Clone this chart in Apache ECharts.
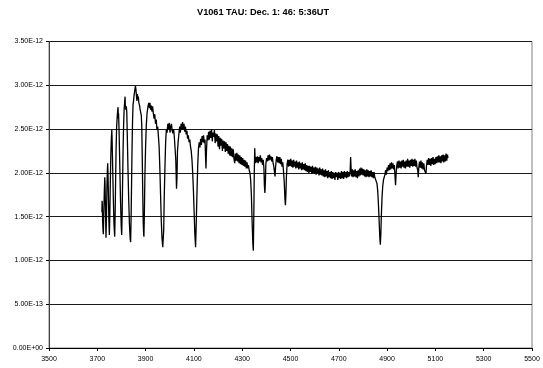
<!DOCTYPE html>
<html>
<head>
<meta charset="utf-8">
<script src="https://cdn.jsdelivr.net/npm/echarts@6/dist/echarts.min.js"></script>
<style>
  html, body { margin: 0; padding: 0; background: #fff; }
  #chart { width: 543px; height: 368px; }
</style>
</head>
<body>
<div id="chart"></div>
<script>
// Chart title
const TITLE = 'V1061 TAU: Dec. 1: 46: 5:36UT';

// Wavelength axis (Angstrom)
const X_MIN = 3500;
const X_MAX = 5500;
const X_STEP = 200;

// Flux axis, values stored in units of 1E-12
const FLUX_UNIT = 1e-12;
const Y_MIN = 0;
const Y_MAX = 3.5;
const Y_STEP = 0.5;

// Spectrum: [wavelength (A), flux (1E-12 units)]
const SPECTRUM_BLUE = [
  [3719,1.55],[3720,1.68],[3721,1.62],[3722,1.45],[3724,1.33],[3725,1.30],[3727,1.55],[3729,1.78],
  [3731,1.95],[3732,1.88],[3734,1.55],[3736,1.26],[3738,1.50],[3740,1.85],[3742,2.05],[3743,2.11],
  [3744,2.02],[3746,1.75],[3748,1.45],[3750,1.29],[3752,1.55],[3754,1.90],[3756,2.20],[3758,2.38],
  [3760,2.49],[3761,2.42],[3763,2.15],[3766,1.75],[3769,1.42],[3772,1.27],[3774,1.55],[3776,1.95],
  [3778,2.30],[3780,2.52],[3782,2.62],[3784,2.70],[3786,2.75],[3787,2.62],[3788,2.68],[3790,2.50],
  [3793,2.10],[3796,1.70],[3799,1.40],[3801,1.29],[3803,1.55],[3805,1.95],[3807,2.30],[3809,2.55],
  [3811,2.72],[3813,2.80],[3815,2.87],[3816,2.78],[3818,2.72],[3820,2.76],[3822,2.70],[3824,2.45],
  [3827,2.05],[3830,1.70],[3833,1.42],[3836,1.25],[3838,1.21],[3840,1.50],[3842,1.90],[3844,2.30],
  [3846,2.60],[3848,2.78],[3850,2.82],[3852,2.88],[3854,2.92],[3856,2.96],[3858,2.99],[3860,2.95],
  [3862,2.88],[3864,2.82],[3866,2.90],[3868,2.84],[3870,2.87],[3872,2.80],[3875,2.77],[3877,2.73],
  [3879,2.70],[3882,2.66],[3884,2.55],[3886,2.20],[3888,1.80],[3890,1.45],[3892,1.30],[3893,1.27],
  [3895,1.55],[3897,1.95],[3900,2.30],[3903,2.55],[3906,2.68],[3908,2.72],[3910,2.76],[3913,2.80],
  [3916,2.74],[3918,2.80],[3921,2.72],[3924,2.77],[3926,2.70],[3929,2.76],[3932,2.68],[3935,2.62],
  [3938,2.67],[3941,2.56],[3944,2.61],[3947,2.49],[3950,2.53],[3953,2.42],[3956,2.30],[3959,2.05],
  [3962,1.75],[3965,1.45],[3968,1.25],[3971,1.15],[3973,1.13],[3975,1.35],[3977,1.70],[3980,2.05],
  [3983,2.35],[3986,2.50],[3989,2.46],[3992,2.56],[3995,2.50],[3998,2.57],[4001,2.46],[4004,2.53],
  [4007,2.56],[4010,2.48],[4013,2.45],[4016,2.50],[4019,2.41],[4022,2.40],[4025,2.15],[4028,1.82],
  [4030,1.95],[4032,2.25],[4035,2.36],[4038,2.45],[4041,2.53],[4044,2.46],[4047,2.56],[4050,2.49],
  [4053,2.58],[4056,2.50],[4059,2.56],[4062,2.47],[4065,2.53],[4068,2.44],[4071,2.48],[4074,2.39],
  [4077,2.43],[4080,2.35],[4083,2.38],[4086,2.30],[4089,2.25],[4092,2.15],[4095,2.00],[4098,1.80],
  [4101,1.55],[4104,1.30],[4107,1.15],[4110,1.45],[4113,1.80],[4116,2.10],[4119,2.28],[4122,2.35],
  [4125,2.29],[4128,2.39],[4131,2.32],[4134,2.42],[4137,2.35],[4140,2.43],[4143,2.34],[4146,2.38],
  [4148,2.20],[4150,2.05],[4152,2.25],[4155,2.43],[4158,2.37],[4161,2.47]
];

const SPECTRUM_MID = [
  [4164,2.38],[4167,2.48],[4170,2.40],[4173,2.50],[4176,2.36],[4179,2.46],[4182,2.41],[4185,2.49],
  [4188,2.34],[4191,2.45],[4194,2.36],[4197,2.44],[4200,2.30],[4203,2.42],[4206,2.27],[4209,2.40],
  [4212,2.31],[4215,2.39],[4218,2.25],[4221,2.37],[4224,2.28],[4227,2.36],[4230,2.24],[4233,2.35],
  [4236,2.25],[4239,2.33],[4242,2.22],[4245,2.31],[4248,2.20],[4251,2.30],[4254,2.19],[4257,2.28],
  [4260,2.18],[4263,2.27],[4266,2.16],[4269,2.11],[4272,2.22],[4275,2.14],[4278,2.23],[4281,2.13],
  [4284,2.21],[4287,2.11],[4290,2.20],[4293,2.10],[4296,2.18],[4299,2.09],[4302,2.17],[4305,2.08],
  [4308,2.15],[4311,2.07],[4314,2.14],[4317,2.05],[4320,2.12],[4323,2.05],[4326,2.09],[4329,2.03],
  [4332,2.00],[4335,1.92],[4338,1.75],[4341,1.45],[4344,1.20],[4346,1.11],[4348,1.50],[4350,2.00],
  [4352,2.28],[4354,2.11],[4357,2.18],[4360,2.12],[4363,2.19],[4366,2.11],[4369,2.18],[4372,2.13],
  [4375,2.20],[4378,2.12],[4381,2.17],[4384,2.09],[4387,2.15],[4390,2.05],[4392,1.85],[4394,1.77],
  [4396,1.90],[4398,2.10],[4401,2.17],[4404,2.13],[4407,2.20],[4410,2.14],[4413,2.21],[4416,2.15],
  [4419,2.19],[4422,2.13],[4425,2.18],[4428,2.11],[4431,2.07],[4434,2.00],[4436,1.96],[4438,2.06],
  [4441,2.15],[4444,2.19],[4447,2.12],[4450,2.18],[4453,2.11],[4456,2.18],[4459,2.10],[4462,2.16],
  [4465,2.07],[4468,2.12],[4471,2.02],[4474,1.90],[4477,1.70],[4479,1.63],[4481,1.75],[4483,1.95],
  [4486,2.10],[4489,2.15],[4492,2.07],[4495,2.15],[4498,2.08],[4501,2.16],[4504,2.07],[4507,2.14],
  [4510,2.06],[4513,2.15],[4516,2.07],[4519,2.13],[4522,2.05],[4525,2.14],[4528,2.06],[4531,2.12],
  [4534,2.04],[4537,2.13],[4540,2.05],[4543,2.11],[4546,2.03],[4549,2.12],[4552,2.04],[4555,2.10],
  [4558,2.03],[4561,2.11],[4564,2.02],[4567,2.09],[4570,2.01],[4573,2.08],[4576,2.00],[4579,2.08],
  [4582,2.01],[4585,2.07],[4588,1.99],[4591,2.08],[4594,2.00],[4597,2.06],[4600,1.99],[4603,2.07],
  [4606,1.98],[4609,2.06],[4612,1.99],[4615,2.05],[4618,1.97],[4621,2.06],[4624,1.98],[4627,2.04],
  [4630,1.97],[4633,2.05],[4636,1.96],[4639,2.03],[4642,1.95],[4645,2.04],[4648,1.96],[4651,2.02],
  [4654,1.94],[4657,2.03],[4660,1.95],[4663,2.01],[4666,1.94],[4669,2.02],[4672,1.93],[4675,2.01],
  [4678,1.94],[4681,2.00],[4684,1.92],[4687,2.01],[4690,1.95],[4693,2.00],[4696,1.92],[4699,2.01],
  [4702,1.94],[4705,2.00],[4708,1.93],[4711,2.02],[4714,1.94],[4717,2.01],[4720,1.93],[4723,2.02],
  [4726,1.95],[4729,2.01],[4732,1.94],[4735,2.02],[4738,1.95],[4741,2.01],[4744,1.96]
];

const SPECTRUM_RED = [
  [4747,2.02],[4749,2.18],[4751,2.04],[4753,1.96],[4756,2.04],[4759,1.95],[4762,2.03],[4765,1.96],
  [4768,2.04],[4771,1.95],[4774,2.02],[4777,1.94],[4780,2.03],[4783,1.96],[4786,2.05],[4789,1.97],
  [4792,2.06],[4795,1.98],[4798,2.05],[4801,1.97],[4804,2.04],[4807,1.96],[4810,2.03],[4813,1.95],
  [4816,2.04],[4819,1.96],[4822,2.03],[4825,1.95],[4828,2.02],[4831,1.96],[4834,2.03],[4837,1.95],
  [4840,2.01],[4843,1.94],[4846,2.01],[4849,1.95],[4852,1.97],[4855,1.93],[4858,1.88],[4861,1.80],
  [4864,1.65],[4867,1.45],[4870,1.25],[4872,1.18],[4874,1.30],[4876,1.50],[4879,1.72],[4882,1.85],
  [4885,1.92],[4888,1.95],[4891,1.98],[4894,2.03],[4897,1.98],[4900,2.06],[4903,2.02],[4906,2.09],
  [4909,2.03],[4912,2.11],[4915,2.04],[4918,2.12],[4921,2.05],[4924,2.11],[4927,2.04],[4930,2.09],
  [4933,1.95],[4935,1.86],[4937,1.98],[4940,2.08],[4943,2.13],[4946,2.05],[4949,2.14],[4952,2.06],
  [4955,2.13],[4958,2.05],[4961,2.14],[4964,2.07],[4967,2.15],[4970,2.06],[4973,2.13],[4976,2.05],
  [4979,2.14],[4982,2.07],[4985,2.16],[4988,2.07],[4991,2.14],[4994,2.06],[4997,2.15],[5000,2.08],
  [5003,2.16],[5006,2.07],[5009,2.15],[5012,2.08],[5015,2.16],[5018,2.07],[5021,2.14],[5024,2.06],
  [5027,2.03],[5029,1.95],[5031,2.05],[5034,2.13],[5037,2.06],[5040,2.14],[5043,2.05],[5046,2.12],
  [5049,2.04],[5052,2.11],[5055,2.03],[5058,2.02],[5061,1.99],[5063,2.08],[5066,2.15],[5069,2.09],
  [5072,2.17],[5075,2.09],[5078,2.16],[5081,2.08],[5084,2.17],[5087,2.10],[5090,2.18],[5093,2.09],
  [5096,2.16],[5099,2.10],[5102,2.18],[5105,2.11],[5108,2.19],[5111,2.12],[5114,2.20],[5117,2.12],
  [5120,2.19],[5123,2.11],[5126,2.20],[5129,2.13],[5132,2.21],[5135,2.12],[5138,2.20],[5141,2.13],
  [5144,2.22],[5147,2.14],[5150,2.21],[5152,2.17]
];

const spectrum = SPECTRUM_BLUE.concat(SPECTRUM_MID, SPECTRUM_RED);

// Scientific label in spreadsheet style, e.g. 3.50E-12, 0.00E+00
function sciLabel(v) {
  const s = (v * FLUX_UNIT).toExponential(2).toUpperCase();
  return s.replace(/E([+-])(\d+)$/, function (m, sign, digits) {
    return 'E' + sign + (digits.length < 2 ? '0' + digits : digits);
  });
}

const FONT = '"Liberation Sans", Arial, sans-serif';
const chart = echarts.init(document.getElementById('chart'), null, { renderer: 'canvas' });

chart.setOption({
  animation: false,
  backgroundColor: '#ffffff',
  graphic: [{
    type: 'text',
    left: 197,
    top: 8,
    style: {
      text: TITLE,
      fill: '#000',
      font: 'bold 9.2px ' + FONT
    }
  }],
  grid: {
    left: 49, right: 11, top: 41.5, bottom: 20,
    show: true, borderColor: '#808080', borderWidth: 1,
    containLabel: false
  },
  xAxis: {
    type: 'value',
    min: X_MIN, max: X_MAX, interval: X_STEP,
    axisLine: { show: true, lineStyle: { color: '#000', width: 1 } },
    axisTick: { show: true, length: 3, inside: false, lineStyle: { color: '#000' } },
    axisLabel: {
      show: true, margin: 8, color: '#000',
      fontFamily: FONT, fontSize: 7,
      showMinLabel: true, showMaxLabel: true,
      formatter: function (v) { return String(v); }
    },
    splitLine: { show: false }
  },
  yAxis: {
    type: 'value',
    min: Y_MIN, max: Y_MAX, interval: Y_STEP,
    axisLine: { show: true, lineStyle: { color: '#404040', width: 1 } },
    axisTick: { show: true, length: 3, inside: false, lineStyle: { color: '#000' } },
    axisLabel: {
      show: true, margin: 6, color: '#000',
      fontFamily: FONT, fontSize: 7,
      formatter: sciLabel
    },
    splitLine: { show: true, lineStyle: { color: '#1a1a1a', width: 1 } }
  },
  series: [{
    type: 'line',
    data: spectrum,
    showSymbol: false,
    symbol: 'none',
    sampling: null,
    lineStyle: { color: '#000', width: 1.3 },
    z: 3
  }]
});
</script>
</body>
</html>
